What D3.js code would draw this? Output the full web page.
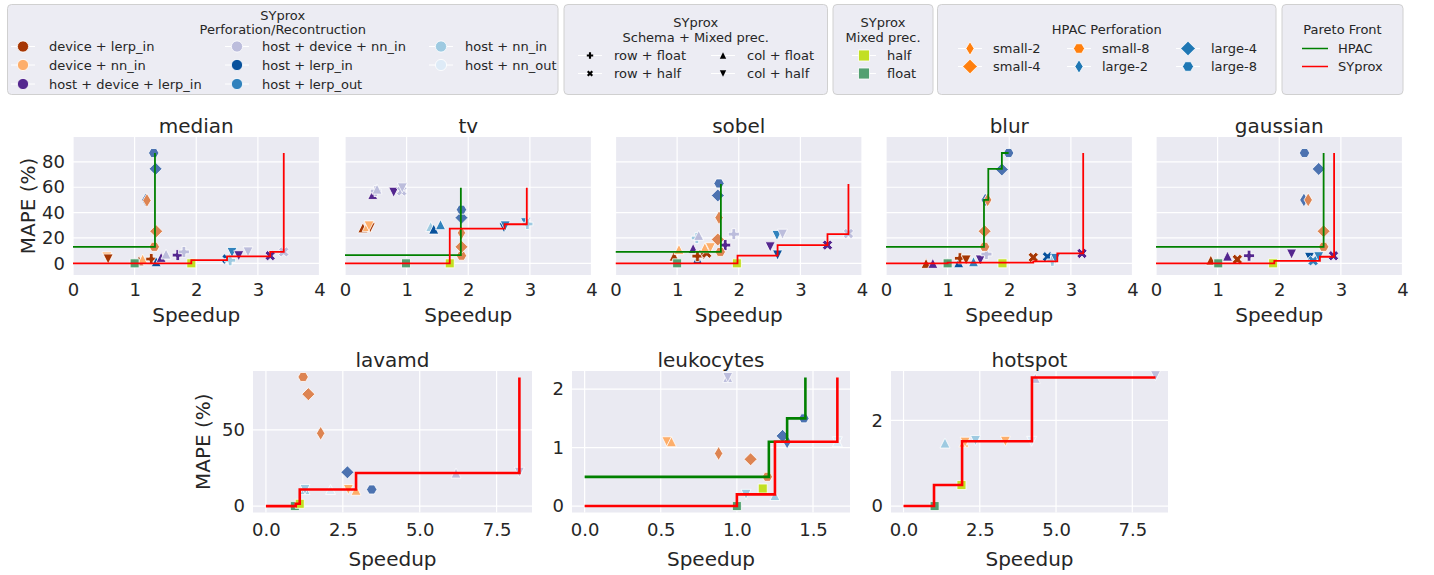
<!DOCTYPE html>
<html>
<head>
<meta charset="utf-8">
<script src="https://cdn.jsdelivr.net/npm/d3@7"></script>
<style>
  body { margin: 0; background: #fff; }
  svg text { font-family: 'DejaVu Sans', sans-serif; fill: #262626; }
</style>
</head>
<body>
<svg id="chart" width="1434" height="575"></svg>
<script>
// Categories
const perfNames = ['device + lerp_in', 'device + nn_in', 'host + device + lerp_in', 'host + device + nn_in',
                   'host + lerp_in', 'host + lerp_out', 'host + nn_in', 'host + nn_out'];
const schemaNames = ['row + float', 'row + half', 'col + float', 'col + half'];
const precNames = ['half', 'float'];
const hpacNames = ['small-2', 'small-4', 'small-8', 'large-2', 'large-4', 'large-8'];
const frontNames = ['HPAC', 'SYprox'];

// SYprox points: [speedup, MAPE, perforation index, schema index]
// Mixed prec points: [speedup, MAPE, precision index]
// HPAC points: [speedup, MAPE, hpac index]
// Pareto fronts: [speedup, MAPE] (drawn as steps)
const medianSyprox = [[0.55, 5.0, 1, 3], [0.57, 3.4, 0, 3], [1.07, 2.0, 0, 2], [1.13, 3.4, 1, 2], [1.27, 3.4, 0, 0],
  [1.35, 1.3, 4, 2], [1.43, 4.7, 2, 2], [1.51, 7.3, 3, 2], [1.7, 6.5, 2, 0], [1.8, 9.0, 3, 0], [2.5, 3.4, 4, 1],
  [2.55, 2.4, 6, 0], [2.58, 8.6, 5, 3], [2.69, 6.0, 2, 3], [2.84, 9.0, 3, 3], [3.2, 6.0, 2, 1], [3.42, 9.0, 3, 1]];
const medianPrec = [[1.0, 0, 1], [1.92, 0, 0]];
const medianHpac = [[1.18, 50, 3], [1.2, 49.6, 0], [1.32, 13, 2], [1.35, 25.3, 1], [1.34, 74.5, 4], [1.31, 87, 5]];
const medianFrontHpac = [[0, 13], [1.33, 87]];
const medianFrontSyprox = [[0, 0], [1.92, 2.6], [2.5, 5.5], [3.2, 9], [3.42, 87]];

const tvSyprox = [[0.29, 28, 0, 2], [0.36, 29, 1, 2], [0.41, 28, 0, 3], [0.39, 29.5, 1, 3], [0.45, 54.3, 2, 2],
  [0.5, 57, 3, 0], [0.52, 58.5, 3, 2], [0.79, 56, 2, 3], [0.92, 57, 3, 1], [0.93, 59.5, 3, 3],
  [1.39, 29, 6, 2], [1.44, 27, 4, 2], [1.55, 30.5, 5, 2], [2.58, 28, 4, 3], [2.6, 29.5, 5, 3],
  [2.93, 32, 5, 3], [2.96, 31, 6, 0]];
const tvPrec = [[0.99, 0, 1], [1.7, 0, 0]];
const tvHpac = [[1.89, 6, 2], [1.89, 13, 1], [1.89, 24, 0], [1.89, 36, 4], [1.89, 42.3, 5]];
const tvFrontHpac = [[0, 6.5], [1.88, 59.5]];
const tvFrontSyprox = [[0, 0], [1.7, 27.4], [2.59, 30.8], [2.95, 59.5]];

const sobelSyprox = [[0.95, 5.7, 0, 2], [1.03, 11, 1, 2], [1.26, 11.7, 2, 2], [1.32, 20, 6, 0], [1.35, 22, 3, 2],
  [1.33, 3.5, 4, 2], [1.33, 5.7, 0, 0], [1.43, 6.5, 0, 3], [1.48, 8, 0, 1], [1.45, 12.3, 1, 2], [1.54, 12.3, 1, 3],
  [1.78, 14.4, 2, 0], [1.92, 23, 3, 0], [2.51, 13, 2, 3], [2.62, 22, 5, 3], [2.71, 23, 3, 3], [2.63, 6.5, 4, 3],
  [3.44, 14.4, 2, 1], [3.78, 23.5, 3, 1]];
const sobelPrec = [[1.0, 0, 1], [1.97, 0, 0]];
const sobelHpac = [[1.7, 9, 2], [1.66, 18.8, 1], [1.68, 36, 0], [1.66, 53.5, 4], [1.68, 63, 5]];
const sobelFrontHpac = [[0, 9.1], [1.71, 62.6]];
const sobelFrontSyprox = [[0, 0], [1.98, 6], [2.63, 14.4], [3.44, 23], [3.78, 62.6]];

const blurSyprox = [[0.65, 0, 0, 2], [0.76, 0, 2, 2], [1.18, 0.5, 4, 2], [1.2, 4, 0, 0], [1.3, 2.6, 0, 3],
  [1.42, 1.3, 5, 2], [1.53, 2.6, 2, 3], [1.63, 7.3, 3, 0], [2.39, 4.7, 0, 1], [2.62, 5.2, 4, 1],
  [2.7, 2.0, 6, 0], [2.75, 3.9, 5, 3], [3.18, 7.8, 2, 1]];
const blurPrec = [[1.0, 0, 1], [1.89, 0, 0]];
const blurHpac = [[1.6, 13, 2], [1.6, 25.3, 1], [1.61, 50, 3], [1.65, 50, 0], [1.88, 74, 4], [1.99, 87, 5]];
const blurFrontHpac = [[0, 13], [1.59, 50], [1.66, 74.4], [1.88, 87], [1.99, 87]];
const blurFrontSyprox = [[0, 0], [1.0, 0.6], [2.39, 1.6], [2.78, 7.8], [3.2, 87]];

const gaussianSyprox = [[0.89, 2.6, 0, 2], [1.16, 5.7, 2, 2], [1.32, 3.1, 0, 1], [1.51, 6, 2, 0], [2.2, 7.3, 2, 3],
  [2.49, 4.7, 4, 3], [2.55, 2.0, 5, 1], [2.64, 5.2, 5, 3], [2.88, 6, 2, 1]];
const gaussianPrec = [[1.01, 0, 1], [1.9, 0, 0]];
const gaussianHpac = [[2.4, 50, 3], [2.47, 50, 0], [2.41, 87, 5], [2.64, 74.4, 4], [2.72, 25.3, 1], [2.72, 13, 2]];
const gaussianFrontHpac = [[0, 13], [2.72, 87]];
const gaussianFrontSyprox = [[0, 0], [1.92, 2], [2.66, 5.2], [2.89, 87]];

const lavamdSyprox = [[1.27, 10.9, 6, 2], [1.27, 10.9, 6, 3], [2.1, 10.9, 7, 2], [2.68, 10.9, 1, 3],
  [2.93, 10.4, 1, 2], [6.18, 21.7, 3, 2], [8.24, 22.2, 3, 3]];
const lavamdPrec = [[0.94, 0, 1], [1.1, 1.5, 0]];
const lavamdHpac = [[1.21, 84.8, 2], [1.38, 73.5, 1], [1.78, 47.8, 0], [2.65, 22.2, 4], [3.44, 10.9, 5]];
const lavamdFrontHpac = [];
const lavamdFrontSyprox = [[0, 0], [0.97, 1.5], [1.1, 10.9], [2.93, 21.7], [8.24, 84.5]];

const leukocytesSyprox = [[0.54, 1.1, 1, 3], [0.57, 1.1, 1, 2], [0.94, 2.2, 3, 2], [0.94, 2.2, 3, 3],
  [1.06, 0.2, 6, 3], [1.25, 0.18, 6, 2], [1.66, 1.1, 7, 3], [1.66, 1.1, 7, 2]];
const leukocytesPrec = [[1.0, 0, 1], [1.17, 0.3, 0]];
const leukocytesHpac = [[0.88, 0.9, 0], [1.09, 0.8, 1], [1.2, 0.5, 2], [1.33, 1.1, 3], [1.3, 1.2, 4], [1.44, 1.5, 5]];
const leukocytesFrontHpac = [[0, 0.5], [1.21, 1.1], [1.33, 1.5], [1.45, 2.2]];
const leukocytesFrontSyprox = [[0, 0], [1.0, 0.2], [1.25, 1.1], [1.66, 2.2]];

const hotspotSyprox = [[1.36, 1.47, 6, 2], [1.98, 1.49, 1, 2], [2.02, 1.49, 1, 3], [2.36, 1.53, 6, 3],
  [3.34, 1.51, 1, 3], [4.2, 1.51, 7, 3], [4.32, 2.98, 3, 2], [8.26, 3.04, 3, 3]];
const hotspotPrec = [[1.02, 0, 1], [1.9, 0.49, 0]];
const hotspotHpac = [];
const hotspotFrontHpac = [];
const hotspotFrontSyprox = [[0, 0], [1.0, 0.49], [1.92, 1.51], [4.21, 3.0], [8.26, 3.0]];

// Styles
const perfColors = ['#a63603', '#fdae6b', '#54278f', '#bcbddc', '#08519c', '#3182bd', '#9ecae1', '#deebf7'];
const schemaShapes = ['plus', 'x', 'triUp', 'triDown'];
const precColors = ['#c2df23', '#52a070'];
const hpacShapes = ['thinDiamond', 'diamond', 'hexagon', 'thinDiamond', 'diamond', 'hexagon'];
const hpacPlotColors = ['#dd8452', '#dd8452', '#dd8452', '#4c72b0', '#4c72b0', '#4c72b0'];
const hpacLegendColors = ['#ff7f0e', '#ff7f0e', '#ff7f0e', '#1f77b4', '#1f77b4', '#1f77b4'];
const frontColors = ['#008000', '#ff0000'];

const svg = d3.select('#chart');

function poly(pts) {
    return 'M' + pts.map(p => p[0].toFixed(2) + ',' + p[1].toFixed(2)).join('L') + 'Z';
}

// Marker paths, roughly like matplotlib markers
function shapePath(type, r) {
    if (type === 'circle') return d3.symbol(d3.symbolCircle, Math.PI * r * r)();
    if (type === 'square') return poly([[-r, -r], [r, -r], [r, r], [-r, r]]);
    if (type === 'triUp') return poly([[0, -r], [r, r], [-r, r]]);
    if (type === 'triDown') return poly([[0, r], [r, -r], [-r, -r]]);
    if (type === 'diamond') return poly([[0, -r], [r, 0], [0, r], [-r, 0]]);
    if (type === 'thinDiamond') return poly([[0, -r], [r * 0.6, 0], [0, r], [-r * 0.6, 0]]);
    if (type === 'hexagon') return poly(d3.range(6).map(i => [r * Math.cos(i * Math.PI / 3), r * Math.sin(i * Math.PI / 3)]));
    const a = r / 3;
    const plus = [[-a, -r], [a, -r], [a, -a], [r, -a], [r, a], [a, a], [a, r], [-a, r], [-a, a], [-r, a], [-r, -a], [-a, -a]];
    if (type === 'plus') return poly(plus);
    const c = Math.SQRT1_2;
    return poly(plus.map(p => [c * (p[0] - p[1]), c * (p[0] + p[1])]));
}

const markerR = { plus: 5.5, x: 5.5, triUp: 5, triDown: 5, square: 4.5, diamond: 6.5, thinDiamond: 7, hexagon: 5.2 };

const panels = [
    { title: 'median', sy: medianSyprox, prec: medianPrec, hpac: medianHpac, fronts: [medianFrontHpac, medianFrontSyprox],
      box: [73, 137, 319.5, 275], xDom: [0, 4], yDom: [-9.2, 99.6], xTicks: [0, 1, 2, 3, 4], yTicks: [0, 20, 40, 60, 80],
      yTickLabels: true, ylabel: true, fmt: d3.format('d'), row: 0 },
    { title: 'tv', sy: tvSyprox, prec: tvPrec, hpac: tvHpac, fronts: [tvFrontHpac, tvFrontSyprox],
      box: [345, 137, 591.5, 275], xDom: [0, 4], yDom: [-9.2, 99.6], xTicks: [0, 1, 2, 3, 4], yTicks: [0, 20, 40, 60, 80],
      yTickLabels: false, ylabel: false, fmt: d3.format('d'), row: 0 },
    { title: 'sobel', sy: sobelSyprox, prec: sobelPrec, hpac: sobelHpac, fronts: [sobelFrontHpac, sobelFrontSyprox],
      box: [615.5, 137, 862, 275], xDom: [0, 4], yDom: [-9.2, 99.6], xTicks: [0, 1, 2, 3, 4], yTicks: [0, 20, 40, 60, 80],
      yTickLabels: false, ylabel: false, fmt: d3.format('d'), row: 0 },
    { title: 'blur', sy: blurSyprox, prec: blurPrec, hpac: blurHpac, fronts: [blurFrontHpac, blurFrontSyprox],
      box: [886, 137, 1132.5, 275], xDom: [0, 4], yDom: [-9.2, 99.6], xTicks: [0, 1, 2, 3, 4], yTicks: [0, 20, 40, 60, 80],
      yTickLabels: false, ylabel: false, fmt: d3.format('d'), row: 0 },
    { title: 'gaussian', sy: gaussianSyprox, prec: gaussianPrec, hpac: gaussianHpac, fronts: [gaussianFrontHpac, gaussianFrontSyprox],
      box: [1156, 137, 1402.5, 275], xDom: [0, 4], yDom: [-9.2, 99.6], xTicks: [0, 1, 2, 3, 4], yTicks: [0, 20, 40, 60, 80],
      yTickLabels: false, ylabel: false, fmt: d3.format('d'), row: 0 },
    { title: 'lavamd', sy: lavamdSyprox, prec: lavamdPrec, hpac: lavamdHpac, fronts: [lavamdFrontHpac, lavamdFrontSyprox],
      box: [253, 371, 532, 512.5], xDom: [-0.42, 8.65], yDom: [-4.2, 88.7], xTicks: [0, 2.5, 5, 7.5], yTicks: [0, 50],
      yTickLabels: true, ylabel: true, fmt: d3.format('.1f'), row: 1 },
    { title: 'leukocytes', sy: leukocytesSyprox, prec: leukocytesPrec, hpac: leukocytesHpac, fronts: [leukocytesFrontHpac, leukocytesFrontSyprox],
      box: [572, 371, 850, 512.5], xDom: [-0.083, 1.743], yDom: [-0.11, 2.31], xTicks: [0, 0.5, 1, 1.5], yTicks: [0, 1, 2],
      yTickLabels: true, ylabel: false, fmt: d3.format('.1f'), row: 1 },
    { title: 'hotspot', sy: hotspotSyprox, prec: hotspotPrec, hpac: hotspotHpac, fronts: [hotspotFrontHpac, hotspotFrontSyprox],
      box: [891, 371, 1168, 512.5], xDom: [-0.41, 8.67], yDom: [-0.15, 3.15], xTicks: [0, 2.5, 5, 7.5], yTicks: [0, 2],
      yTickLabels: true, ylabel: false, fmt: d3.format('.1f'), row: 1 }
];

function drawPanel(p) {
    const [x0, y0, x1, y1] = p.box;
    const x = d3.scaleLinear().domain(p.xDom).range([x0, x1]);
    const y = d3.scaleLinear().domain(p.yDom).range([y1, y0]);
    const g = svg.append('g');

    g.append('rect').attr('x', x0).attr('y', y0).attr('width', x1 - x0).attr('height', y1 - y0).attr('fill', '#eaeaf2');

    // Grid
    g.selectAll('.gx').data(p.xTicks).join('line')
        .attr('x1', d => x(d)).attr('x2', d => x(d)).attr('y1', y0).attr('y2', y1)
        .attr('stroke', '#fff').attr('stroke-width', 1.2);
    g.selectAll('.gy').data(p.yTicks).join('line')
        .attr('y1', d => y(d)).attr('y2', d => y(d)).attr('x1', x0).attr('x2', x1)
        .attr('stroke', '#fff').attr('stroke-width', 1.2);

    // Axes
    const pad = p.row === 0 ? 8.5 : 11;
    const xAxis = d3.axisBottom(x).tickValues(p.xTicks).tickSize(0).tickPadding(pad).tickFormat(p.fmt);
    g.append('g').attr('transform', `translate(0,${y1})`).call(xAxis)
        .call(a => a.select('.domain').remove())
        .selectAll('text').attr('font-size', 18).attr('font-family', 'DejaVu Sans').attr('fill', '#262626');

    if (p.yTickLabels) {
        const yAxis = d3.axisLeft(y).tickValues(p.yTicks).tickSize(0).tickPadding(8).tickFormat(d3.format('d'));
        g.append('g').attr('transform', `translate(${x0},0)`).call(yAxis)
            .call(a => a.select('.domain').remove())
            .selectAll('text').attr('font-size', 18).attr('font-family', 'DejaVu Sans').attr('fill', '#262626');
    }

    // Titles and labels
    g.append('text').attr('x', (x0 + x1) / 2).attr('y', y0 - 4).attr('text-anchor', 'middle')
        .attr('font-size', 20).text(p.title);
    g.append('text').attr('x', (x0 + x1) / 2).attr('y', p.row === 0 ? 322 : 565.5).attr('text-anchor', 'middle')
        .attr('font-size', 20).text('Speedup');
    if (p.ylabel) {
        const bx = p.row === 0 ? 35 : 210;
        g.append('text').attr('transform', `translate(${bx},${(y0 + y1) / 2}) rotate(-90)`)
            .attr('text-anchor', 'middle').attr('font-size', 20).text('MAPE (%)');
    }

    // Clip marks to the axes
    const clipId = 'clip-' + p.title;
    g.append('clipPath').attr('id', clipId).append('rect')
        .attr('x', x0).attr('y', y0).attr('width', x1 - x0).attr('height', y1 - y0);
    const marks = g.append('g').attr('clip-path', `url(#${clipId})`);

    // SYprox perforation / schema points
    marks.selectAll('.sy').data(p.sy).join('path')
        .attr('d', d => shapePath(schemaShapes[d[3]], markerR[schemaShapes[d[3]]]))
        .attr('transform', d => `translate(${x(d[0])},${y(d[1])})`)
        .attr('fill', d => perfColors[d[2]])
        .attr('stroke', '#fff').attr('stroke-width', 0.8);

    // Mixed precision points
    marks.selectAll('.pr').data(p.prec).join('path')
        .attr('d', shapePath('square', markerR.square))
        .attr('transform', d => `translate(${x(d[0])},${y(d[1])})`)
        .attr('fill', d => precColors[d[2]])
        .attr('stroke', '#fff').attr('stroke-width', 0.8);

    // HPAC perforation points
    marks.selectAll('.hp').data(p.hpac).join('path')
        .attr('d', d => shapePath(hpacShapes[d[2]], markerR[hpacShapes[d[2]]]))
        .attr('transform', d => `translate(${x(d[0])},${y(d[1])})`)
        .attr('fill', d => hpacPlotColors[d[2]])
        .attr('stroke', '#fff').attr('stroke-width', 0.8);

    // Pareto fronts
    const line = d3.line().x(d => x(d[0])).y(d => y(d[1])).curve(d3.curveStepAfter);
    p.fronts.forEach((f, i) => {
        if (!f.length) return;
        marks.append('path').datum(f).attr('d', line)
            .attr('fill', 'none').attr('stroke', frontColors[i])
            .attr('stroke-width', p.row === 0 ? 1.8 : 2.6);
    });
}

panels.forEach(drawPanel);

// Legends
function legendBox(x0, x1, titles, titleYs) {
    const g = svg.append('g');
    g.append('rect').attr('x', x0).attr('y', 4.5).attr('width', x1 - x0).attr('height', 90).attr('rx', 4)
        .attr('fill', '#ececf3').attr('stroke', '#d0d0d0').attr('stroke-width', 1);
    titles.forEach((t, i) => {
        g.append('text').attr('x', (x0 + x1) / 2).attr('y', titleYs[i]).attr('dy', '0.36em')
            .attr('text-anchor', 'middle').attr('font-size', 13).text(t);
    });
    return g;
}

function legendItem(g, mx, tx, cy, label, drawHandle) {
    g.append('line').attr('x1', mx - 12).attr('x2', mx + 12).attr('y1', cy).attr('y2', cy)
        .attr('stroke', '#fff').attr('stroke-width', 1);
    drawHandle(g.append('g').attr('transform', `translate(${mx},${cy})`));
    g.append('text').attr('x', tx).attr('y', cy).attr('dy', '0.36em').attr('font-size', 13).text(label);
}

// Box 1: perforation / reconstruction
const lg1 = legendBox(7.5, 558, ['SYprox', 'Perforation/Recontruction'], [15.5, 29.5]);
const cols1 = [[23, 49], [237, 262], [441, 465]];
const rows1 = [46.5, 65, 84];
perfNames.forEach((name, i) => {
    const c = cols1[Math.floor(i / 3)], cy = rows1[i % 3];
    legendItem(lg1, c[0], c[1], cy, name, h => h.append('path').attr('d', shapePath('circle', 5.6))
        .attr('fill', perfColors[i]).attr('stroke', '#fff').attr('stroke-width', 0.8));
});

// Box 2: schema + mixed precision
const lg2 = legendBox(564, 827.5, ['SYprox', 'Schema + Mixed prec.'], [22, 37]);
const cols2 = [[590, 614], [723, 747]];
const rows2 = [55.5, 73.5];
schemaNames.forEach((name, i) => {
    const c = cols2[Math.floor(i / 2)], cy = rows2[i % 2];
    legendItem(lg2, c[0], c[1], cy, name, h => h.append('path').attr('d', shapePath(schemaShapes[i], 3.2))
        .attr('fill', '#000'));
});

// Box 3: mixed precision
const lg3 = legendBox(833, 933, ['SYprox', 'Mixed prec.'], [22, 37]);
precNames.forEach((name, i) => {
    legendItem(lg3, 864, 887, rows2[i], name, h => h.append('path').attr('d', shapePath('square', 5.5))
        .attr('fill', precColors[i]).attr('stroke', '#fff').attr('stroke-width', 0.8));
});

// Box 4: HPAC perforation
const lg4 = legendBox(937.5, 1276, ['HPAC Perforation'], [29.5]);
const cols4 = [[970, 993], [1079, 1102], [1188, 1211]];
const rows4 = [48.5, 66.5];
const hpacLegendR = { thinDiamond: 6.8, diamond: 7.3, hexagon: 5.5 };
hpacNames.forEach((name, i) => {
    const c = cols4[Math.floor(i / 2)], cy = rows4[i % 2];
    legendItem(lg4, c[0], c[1], cy, name, h => h.append('path').attr('d', shapePath(hpacShapes[i], hpacLegendR[hpacShapes[i]]))
        .attr('fill', hpacLegendColors[i]).attr('stroke', '#fff').attr('stroke-width', 0.8));
});

// Box 5: Pareto fronts
const lg5 = legendBox(1282, 1403, ['Pareto Front'], [29.5]);
frontNames.forEach((name, i) => {
    const cy = rows4[i];
    lg5.append('line').attr('x1', 1302).attr('x2', 1328).attr('y1', cy).attr('y2', cy)
        .attr('stroke', frontColors[i]).attr('stroke-width', 1.5);
    lg5.append('text').attr('x', 1338).attr('y', cy).attr('dy', '0.36em').attr('font-size', 13).text(name);
});
</script>
</body>
</html>
